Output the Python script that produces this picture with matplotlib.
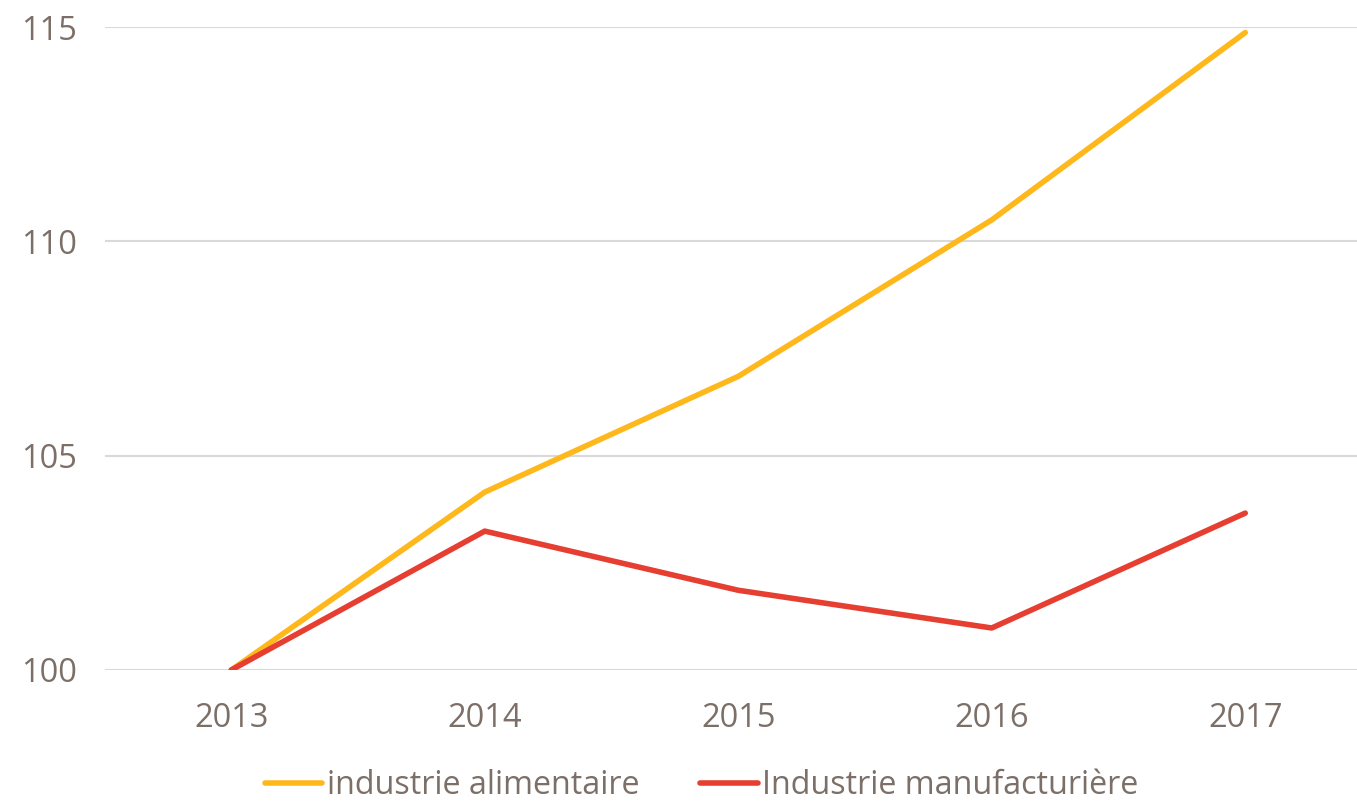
import matplotlib
matplotlib.use("Agg")
import matplotlib.pyplot as plt

years = ["2013", "2014", "2015", "2016", "2017"]
alimentaire = [100.0, 104.15, 106.85, 110.5, 114.87]
manufacturiere = [100.0, 103.24, 101.86, 100.98, 103.66]
y_ticks = [100, 105, 110, 115]

TEXT = "#7b6f67"
plt.rcParams["font.family"] = ["Open Sans", "DejaVu Sans"]

W, H = 1357, 802
fig = plt.figure(figsize=(W / 100, H / 100), dpi=100)
ax = fig.add_axes([104.5 / W, 132 / H, (W - 104.5) / W, 643 / H])

x = list(range(len(years)))
ax.plot(x, alimentaire, color="#ffb81c", lw=4, solid_capstyle="round",
        solid_joinstyle="round", label="industrie alimentaire", zorder=3)
ax.plot(x, manufacturiere, color="#e63e30", lw=4, solid_capstyle="round",
        solid_joinstyle="round", label="Industrie manufacturière", zorder=4)

ax.set_xlim(-0.5, -0.5 + (W - 104.5) / 253.5)
ax.set_ylim(100, 115)
ax.set_xticks(x)
ax.set_xticklabels(years)
ax.set_yticks(y_ticks)
ax.tick_params(length=0, labelsize=23.5, colors=TEXT)
ax.tick_params(axis="y", pad=20)
ax.tick_params(axis="x", pad=23)
ax.grid(axis="y", color="#d9d9d9", lw=1.5)
ax.set_axisbelow(True)
for s in ax.spines.values():
    s.set_visible(False)

fig.legend(loc="center", bbox_to_anchor=(701.5 / W, 1 - 786 / H), ncols=2,
           frameon=False, fontsize=23.2, labelcolor=TEXT, handlelength=1.78,
           handletextpad=0.13, columnspacing=1.9)

fig.savefig("out.png", dpi=100)
